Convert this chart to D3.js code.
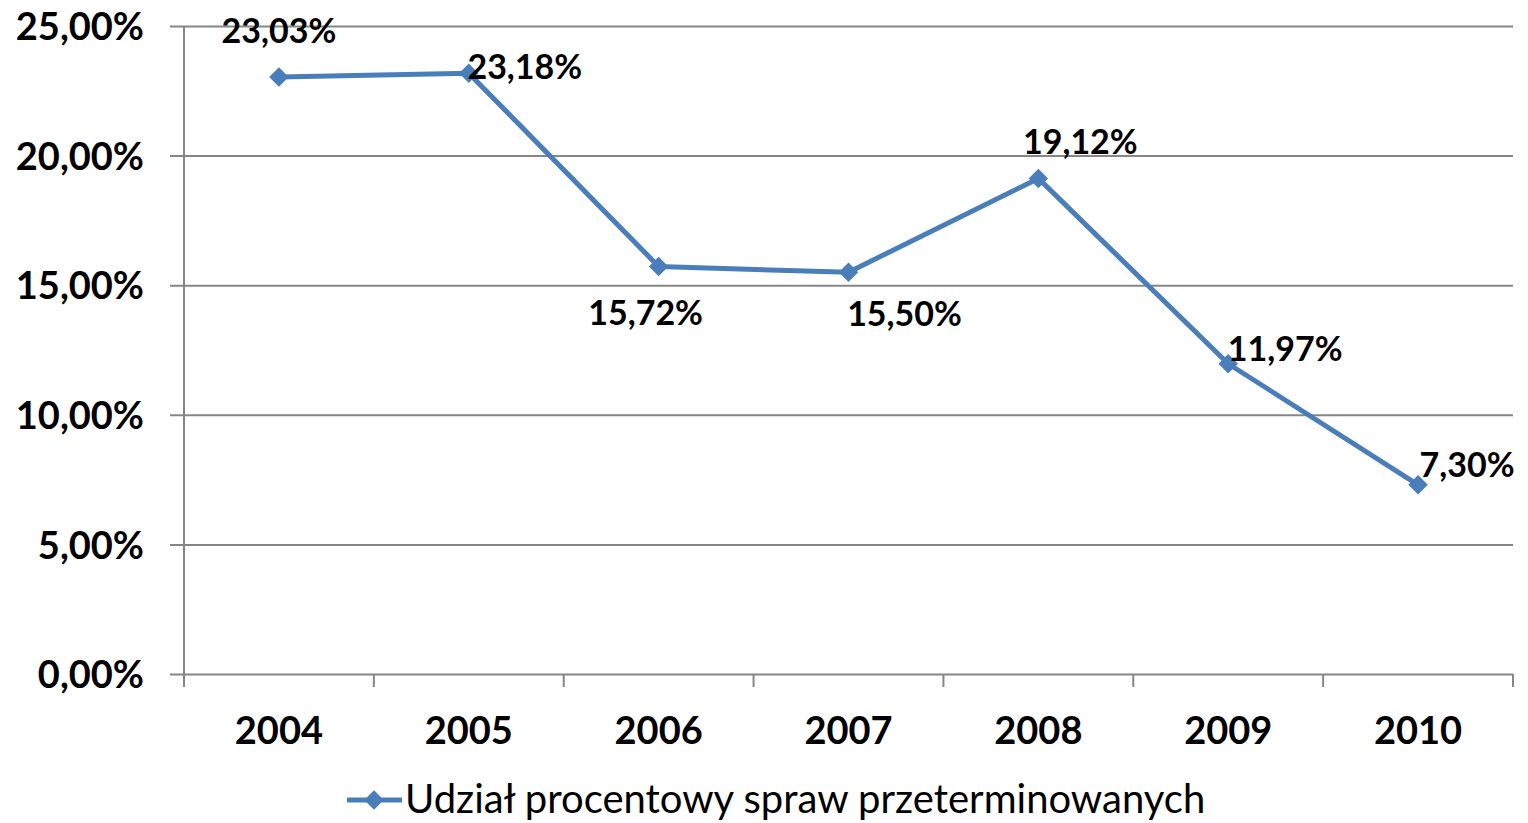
<!DOCTYPE html>
<html>
<head>
<meta charset="utf-8">
<script src="https://cdn.jsdelivr.net/npm/d3@7"></script>
<style>
  body { margin: 0; background: #fff; }
  text { font-family: Lato, "Open Sans", sans-serif; }
</style>
</head>
<body>
<svg id="chart"></svg>
<script>
const years = ["2004", "2005", "2006", "2007", "2008", "2009", "2010"];
const share = [23.03, 23.18, 15.72, 15.50, 19.12, 11.97, 7.30];
const yTicks = [0, 5, 10, 15, 20, 25];
const seriesName = "Udział procentowy spraw przeterminowanych";

// label offsets (px) from each point, placed like the original
const labelOffset = [[0, -46], [56, -6], [-13, 46], [56, 42], [42, -37], [57, -15], [49, -20]];

const width = 1528, height = 823;
const margin = {top: 26, right: 15, bottom: 149, left: 184};
const color = "#4a7ebb";
const grid = "#868686";

const svg = d3.select("#chart").attr("width", width).attr("height", height);

const x = d3.scaleBand().domain(years).range([margin.left, width - margin.right]);
const y = d3.scaleLinear().domain([0, 25]).range([height - margin.bottom, margin.top]);

const fmt = v => d3.format(".2f")(v).replace(".", ",") + "%";

// gridlines + y axis
svg.append("g")
  .attr("transform", `translate(${margin.left},0)`)
  .call(d3.axisLeft(y).tickValues(yTicks)
    .tickSize(-(width - margin.left - margin.right)).tickSizeOuter(0).tickFormat(fmt))
  .call(g => g.select(".domain").remove())
  .call(g => g.selectAll(".tick line").attr("stroke", grid).attr("stroke-width", 2).attr("x1", -14))
  .call(g => g.selectAll(".tick text").attr("x", -40).attr("dy", "0.36em")
    .attr("font-size", 38).attr("font-weight", "bold").attr("fill", "#000"));

svg.append("line")
  .attr("x1", margin.left).attr("x2", margin.left)
  .attr("y1", margin.top).attr("y2", y(0) + 13)
  .attr("stroke", grid).attr("stroke-width", 2);

// x axis ticks at band boundaries
const xAxis = svg.append("g");
xAxis.selectAll("line.tk")
  .data(years.concat(["end"]))
  .join("line")
  .attr("x1", (d, i) => i < years.length ? x(d) : x.range()[1])
  .attr("x2", (d, i) => i < years.length ? x(d) : x.range()[1])
  .attr("y1", y(0)).attr("y2", y(0) + 13)
  .attr("stroke", grid).attr("stroke-width", 2);
xAxis.selectAll("text")
  .data(years)
  .join("text")
  .attr("x", d => x(d) + x.bandwidth() / 2)
  .attr("y", y(0) + 56)
  .attr("dy", "0.36em")
  .attr("text-anchor", "middle")
  .attr("font-size", 38).attr("font-weight", "bold")
  .text(d => d);

// line
const pts = years.map((d, i) => [x(d) + x.bandwidth() / 2, y(share[i])]);
svg.append("path")
  .attr("d", d3.line()(pts))
  .attr("fill", "none").attr("stroke", color).attr("stroke-width", 5)
  .attr("stroke-linejoin", "round");

const diamond = d3.symbol().type(d3.symbolSquare).size(190);
svg.selectAll("path.mk")
  .data(pts)
  .join("path")
  .attr("class", "mk")
  .attr("d", diamond)
  .attr("transform", d => `translate(${d[0]},${d[1]}) rotate(45)`)
  .attr("fill", color);

// data labels
svg.selectAll("text.lbl")
  .data(share)
  .join("text")
  .attr("class", "lbl")
  .attr("x", (d, i) => pts[i][0] + labelOffset[i][0])
  .attr("y", (d, i) => pts[i][1] + labelOffset[i][1])
  .attr("dy", "0.36em")
  .attr("text-anchor", "middle")
  .attr("font-size", 34).attr("font-weight", "bold")
  .text(d => fmt(d));

// legend
const lg = svg.append("g").attr("transform", "translate(347,800)");
lg.append("line").attr("x1", 0).attr("x2", 55).attr("stroke", color).attr("stroke-width", 5);
lg.append("path").attr("d", diamond).attr("transform", "translate(27,0) rotate(45)").attr("fill", color);
lg.append("text").attr("x", 58).attr("dy", "0.32em").attr("font-size", 40).text(seriesName);
</script>
</body>
</html>
